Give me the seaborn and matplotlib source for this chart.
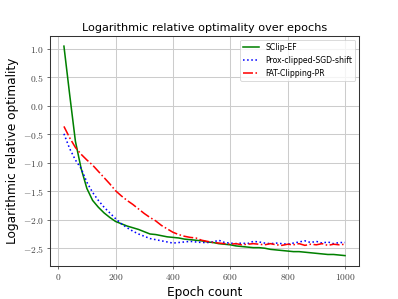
import numpy as np
import pandas as pd
import matplotlib
matplotlib.use('Agg')
import matplotlib.pyplot as plt
import matplotlib.ticker as mticker
import seaborn as sns

# epochs (every 20)
epochs = list(range(20, 1001, 20))

sclip_ef = [1.05, 0.20, -0.62, -1.10, -1.45, -1.66, -1.78, -1.88, -1.96, -2.03,
            -2.07, -2.11, -2.14, -2.17, -2.21, -2.25, -2.26, -2.28, -2.30, -2.31,
            -2.32, -2.34, -2.35, -2.36, -2.37, -2.39, -2.40, -2.42, -2.43, -2.44,
            -2.46, -2.47, -2.48, -2.49, -2.49, -2.50, -2.52, -2.53, -2.54, -2.55,
            -2.56, -2.56, -2.57, -2.58, -2.59, -2.60, -2.61, -2.61, -2.62, -2.63]

prox_sgd = [-0.49, -0.75, -0.95, -1.10, -1.34, -1.52, -1.66, -1.78, -1.88, -1.98,
            -2.07, -2.14, -2.20, -2.25, -2.29, -2.33, -2.35, -2.37, -2.39, -2.41,
            -2.40, -2.39, -2.38, -2.39, -2.40, -2.40, -2.39, -2.36, -2.40, -2.41,
            -2.42, -2.41, -2.42, -2.38, -2.39, -2.41, -2.42, -2.41, -2.42, -2.43,
            -2.41, -2.39, -2.37, -2.40, -2.38, -2.41, -2.39, -2.42, -2.40, -2.40]

fat_clip = [-0.36, -0.56, -0.73, -0.85, -0.95, -1.04, -1.15, -1.26, -1.37, -1.49,
            -1.58, -1.66, -1.73, -1.81, -1.89, -1.96, -2.02, -2.10, -2.16, -2.22,
            -2.26, -2.29, -2.31, -2.32, -2.36, -2.38, -2.40, -2.41, -2.42, -2.43,
            -2.42, -2.44, -2.43, -2.42, -2.43, -2.44, -2.42, -2.44, -2.45, -2.43,
            -2.44, -2.42, -2.45, -2.43, -2.44, -2.42, -2.45, -2.43, -2.44, -2.43]

plt.rcParams['mathtext.fontset'] = 'cm'

fig, ax = plt.subplots(figsize=(6.4, 4.8), dpi=62.34)

sns.lineplot(x=epochs, y=sclip_ef, ax=ax, color='green', linestyle='-',
             linewidth=1.8, label='SClip-EF')
sns.lineplot(x=epochs, y=prox_sgd, ax=ax, color='blue', linestyle=':',
             linewidth=1.8, label='Prox-clipped-SGD-shift')
sns.lineplot(x=epochs, y=fat_clip, ax=ax, color='red', linestyle='-.',
             linewidth=1.8, label='FAT-Clipping-PR')

ax.grid(True, color='#cccccc', linewidth=1.2)
ax.set_axisbelow(True)
for s in ax.spines.values():
    s.set_color('#333333')
    s.set_linewidth(1.2)

ax.xaxis.set_major_formatter(mticker.FuncFormatter(lambda v, p: r'$%d$' % v))
ax.yaxis.set_major_formatter(mticker.FuncFormatter(lambda v, p: r'$%.1f$' % v))
ax.tick_params(colors='#333333', labelcolor='#444444', labelsize=11)

ax.set_title('Logarithmic relative optimality over epochs', fontsize=13)
ax.set_xlabel('Epoch count', fontsize=14)
ax.set_ylabel('Logarithmic relative optimality', fontsize=14)
ax.legend(loc='upper right', fontsize=9)

fig.savefig('out.png', dpi=62.34)
